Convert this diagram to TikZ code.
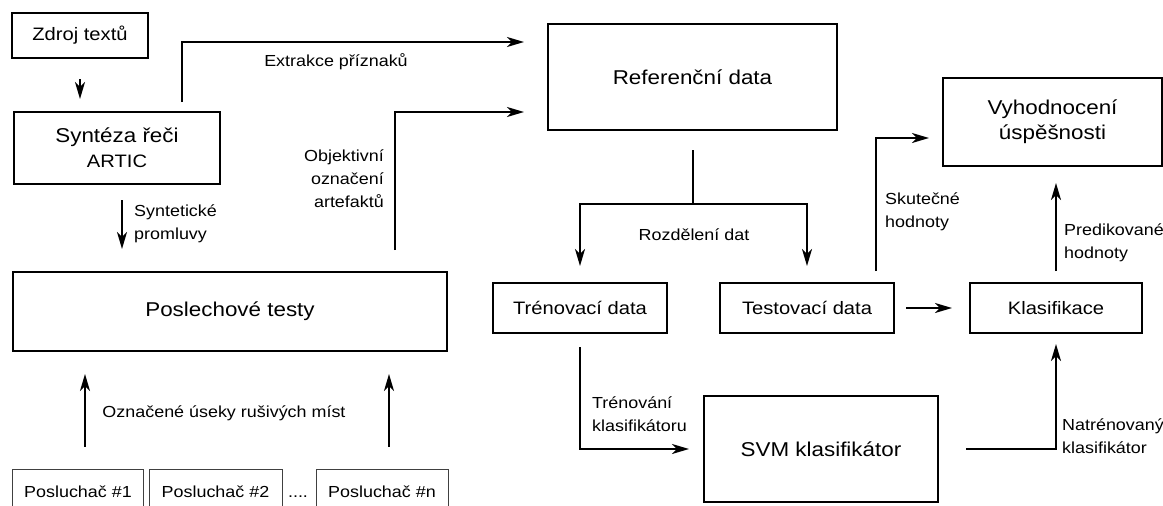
\documentclass[tikz,border=0pt]{standalone}
\usepackage{fontspec}
\setmainfont{Liberation Sans}[FakeStretch=1.12]
\usetikzlibrary{arrows.meta,positioning}

\begin{document}
\begin{tikzpicture}[x=1pt, y=-1pt,
    blok/.style={draw, line width=2pt, inner sep=0pt, align=center,
      font=\fontsize{20}{25}\selectfont},
    maly/.style={blok, font=\fontsize{18}{22}\selectfont},
    posl/.style={draw=black!75, line width=0.9pt, inner sep=0pt,
      minimum width=131pt, minimum height=46pt, font=\fontsize{16}{20}\selectfont},
    sipka/.style={line width=2pt, -{Stealth[length=17pt, width=10pt, inset=5pt]}},
    popis/.style={inner sep=0pt, align=left, font=\fontsize{16}{23}\selectfont}]
    \useasboundingbox (0,0) rectangle (1163,506);

    % levy sloupec
    \node[maly, minimum width=136pt, minimum height=45pt] (zdroj) at (80,35.5) {Zdroj textů};
    \node[blok, minimum width=206pt, minimum height=72pt] (synteza) at (117,148)
      {Syntéza řeči\\{\fontsize{18}{22}\selectfont ARTIC}};
    \node[blok, minimum width=434pt, minimum height=79pt] (poslech) at (230,311.5) {Poslechové testy};
    \node[posl] (posl1) at (78,492) {Posluchač \#1};
    \node[posl, minimum width=133pt] (posl2) at (215.5,492) {Posluchač \#2};
    \node[inner sep=0pt, font=\fontsize{16}{20}\selectfont] (tecky) at (298,497) {....};
    \node[posl, minimum width=132pt] (posln) at (382,492) {Posluchač \#n};

    % pravy blok
    \node[blok, minimum width=289pt, minimum height=106pt] (ref) at (692.5,77) {Referenční data};
    \node[maly, minimum width=174pt, minimum height=50pt] (tren) at (580,308) {Trénovací data};
    \node[maly, minimum width=174pt, minimum height=50pt] (test) at (807,308) {Testovací data};
    \node[maly, minimum width=172pt, minimum height=50pt] (klas) at (1056,308) {Klasifikace};
    \node[blok, minimum width=219pt, minimum height=88pt] (vyhod) at (1052.5,122)
      {Vyhodnocení\\úspěšnosti};
    \node[blok, minimum width=234pt, minimum height=106pt] (svm) at (821,449) {SVM klasifikátor};
    \coordinate (rozd) at (692.5,204);

    % spoje
    \draw[sipka, shorten <=20pt, shorten >=12pt] (zdroj.south) -- (zdroj.south |- synteza.north);
    \draw[sipka, shorten <=15pt, shorten >=22pt] ([xshift=5pt]synteza.south)
      -- ([xshift=5pt]synteza.south |- poslech.north);
    \draw[sipka, shorten <=9pt, shorten >=23pt] ([xshift=65pt]synteza.north) |- ([yshift=35pt]ref.west);
    \draw[sipka, shorten <=21pt, shorten >=23pt] ([xshift=165pt]poslech.north) |- ([yshift=-35pt]ref.west);
    \draw[sipka, shorten <=22pt, shorten >=22pt] ([xshift=7pt]posl1.north)
      -- ([xshift=7pt]posl1.north |- poslech.south);
    \draw[sipka, shorten <=22pt, shorten >=22pt] ([xshift=7pt]posln.north)
      -- ([xshift=7pt]posln.north |- poslech.south);

    \draw[line width=2pt, shorten <=19pt] (ref.south) -- (rozd);
    \draw[sipka, shorten >=16pt] (rozd) -| (tren.north);
    \draw[sipka, shorten >=16pt] (rozd) -| (test.north);
    \draw[sipka, shorten <=11pt, shorten >=17pt] (test.east) -- (klas.west);
    \draw[sipka, shorten <=11pt, shorten >=13pt] ([xshift=69pt]test.north) |- ([yshift=-16pt]vyhod.west);
    \draw[sipka, shorten <=11pt, shorten >=16pt] (klas.north) -- (klas.north |- vyhod.south);
    \draw[sipka, shorten <=13pt, shorten >=14pt] (tren.south) |- (svm.west);
    \draw[sipka, shorten <=27pt, shorten >=10pt] (svm.east) -| (klas.south);

    % popisky
    \node[popis] (lextr) at (336,62) {Extrakce příznaků};
    \node[popis, anchor=east, align=right] (lobj) at (384,179) {Objektivní\\označení\\artefaktů};
    \node[popis, anchor=west] (lsynt) at (134,224) {Syntetické\\promluvy};
    \node[popis] (loznac) at (224,413) {Označené úseky rušivých míst};
    \node[popis] (lrozd) at (694,235) {Rozdělení dat};
    \node[popis, anchor=west] (lskut) at (885,212) {Skutečné\\hodnoty};
    \node[popis, anchor=west] (lpred) at (1064,243) {Predikované\\hodnoty};
    \node[popis, anchor=west] (ltren) at (592,414) {Trénování\\klasifikátoru};
    \node[popis, anchor=west] (lnatr) at (1062,436) {Natrénovaný\\klasifikátor};
\end{tikzpicture}
\end{document}
